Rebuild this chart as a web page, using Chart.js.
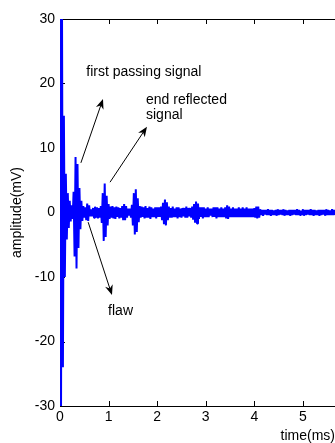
<!DOCTYPE html>
<html>
<head>
<meta charset="utf-8">
<script src="https://cdn.jsdelivr.net/npm/chart.js@4.4.0/dist/chart.umd.min.js"></script>
<style>
    html, body { margin: 0; padding: 0; background: #fff; }
</style>
</head>
<body>
<canvas id="signalChart" width="335" height="443"></canvas>
<script>
// Sampling of the recorded trace (ms between samples)
const sampleStepMs = 0.02;

// Amplitude, mV (one value per sample)
const amplitudeMv = [
    // excitation pulse and its decay
    35, -35, 35, -24, 15, -10, 6, -4.2, 3, -2.4, 1.8, -1.4, 1.1, -1.0,
    // first passing signal
    3.2, -6.8, 8.6, -8.7, 7.5, -5.5, 3.8, -2.6, 1.8, -1.3, 1.0, -0.8,
    // flaw echo and noise
    0.8, -1.2, 1.4, -1.3, 1.1, -0.6, 0.5, -0.6, 0.7, -0.8, 0.9, -0.8, 0.8, -0.9, 0.7, -0.8, 1.0, -1.6,
    // end reflected signal
    3.0, -4.4, 4.5, -3.8, 2.6, -2.0, 1.3, -1.0,
    0.9, -0.8, 1.0, -0.9, 0.8, -1.0, 0.9, -0.7, 0.8, -0.9, 0.7, -0.8, 1.0, -1.2, 1.3, -1.2, 1.0, -0.8, 0.6, -0.5, 0.6, -0.8, 1.2,
    // second reflection
    -2.0, 3.0, -3.4, 3.6, -3.0, 2.2, -1.5, 1.0,
    -0.8, 0.9, -0.7, 0.8, -0.9, 1.0, -0.8, 0.7, -0.8, 0.9, -1.0, 0.8, -0.7, 0.6, -0.7, 0.8, -0.9, 0.8, -0.7, 0.8, -0.7, 0.9, -1.2,
    // third reflection
    1.5, -1.8, 2.0, -2.0, 1.6, -1.2,
    0.9, -0.8, 0.7, -0.8, 0.9, -0.7, 0.6, -0.7, 0.8, -0.9, 0.8, -0.7, 0.6, -0.8, 0.7, -0.6, 0.7, -0.8, 0.9, -0.8, 0.7, -0.6, 0.7, -0.8, 0.9, -1.1,
    // fourth reflection
    1.3, -1.6, 1.7, -1.7, 1.4, -1.0,
    0.8, -0.7, 0.8, -0.9, 0.8, -0.7, 0.6, -0.7, 0.8, -0.7, 0.6, -0.5, 0.6, -0.7, 0.8, -0.7, 0.8, -0.9, 0.8, -0.7, 0.6, -0.7, 0.8, -0.7, 0.6, -0.7, 0.8,
    // fifth reflection
    -0.9, 1.1, -1.0, 0.9,
    -0.7, 0.6, -0.7, 0.8, -0.7, 0.6, -0.7, 0.6, -0.7, 0.8, -0.7, 0.6, -0.7, 0.8, -0.7, 0.6, -0.7, 0.8, -0.7, 0.6, -0.7, 0.6, -0.7, 0.6, -0.7, 0.7, -0.8,
    // sixth reflection
    0.9, -0.9, 0.9, -0.8,
    // residual noise
    0.5, -0.4, 0.4, -0.5, 0.4, -0.3, 0.4, -0.4, 0.5, -0.4,
    0.4, -0.5, 0.4, -0.4, 0.3, -0.4, 0.4, -0.5, 0.5, -0.4,
    0.4, -0.3, 0.4, -0.4, 0.5, -0.5, 0.4, -0.4, 0.3, -0.4,
    0.4, -0.5, 0.4, -0.4, 0.4, -0.3, 0.4, -0.4, 0.5, -0.4,
    0.4, -0.4, 0.3, -0.4, 0.5, -0.5, 0.4, -0.4, 0.4, -0.3,
    0.4, -0.4, 0.5, -0.4, 0.4, -0.5, 0.4, -0.4, 0.3, -0.4,
    0.4, -0.5, 0.4, -0.4, 0.4, -0.3, 0.4, -0.5, 0.5, -0.4,
    0.4, -0.4, 0.3, -0.4, 0.5, -0.4, 0.4, -0.4
];

// Axis ticks
const xTicks = [0, 1, 2, 3, 4, 5];
const yTicks = [-30, -20, -10, 0, 10, 20, 30];

// Annotations (data coordinates)
const noteTexts = ['first passing signal', 'end reflected', 'signal', 'flaw'];
const noteX = [0.54, 1.77, 1.77, 0.99];
const noteY = [21.2, 16.8, 14.5, -15.9];
const arrowFromX = [0.43, 1.03, 0.58];
const arrowFromY = [7.7, 4.7, -1.5];
const arrowToX = [0.885, 1.79, 1.07];
const arrowToY = [17.6, 13.3, -12.8];

const fontFamily = '"Liberation Sans", Arial, Helvetica, sans-serif';

// Inner tick marks and the top edge of the box, MATLAB style
const axisBoxPlugin = {
    id: 'axisBox',
    beforeDatasetsDraw(chart) {
        const { ctx, chartArea, scales } = chart;
        ctx.save();
        ctx.strokeStyle = '#000';
        ctx.lineWidth = 1;
        ctx.beginPath();
        ctx.moveTo(chartArea.left, chartArea.top + 0.5);
        ctx.lineTo(chartArea.right, chartArea.top + 0.5);
        scales.x.ticks.forEach(t => {
            const px = Math.round(scales.x.getPixelForValue(t.value)) + 0.5;
            ctx.moveTo(px, chartArea.bottom);
            ctx.lineTo(px, chartArea.bottom - 5);
            ctx.moveTo(px, chartArea.top);
            ctx.lineTo(px, chartArea.top + 5);
        });
        scales.y.ticks.forEach(t => {
            const py = Math.round(scales.y.getPixelForValue(t.value)) + 0.5;
            ctx.moveTo(chartArea.left, py);
            ctx.lineTo(chartArea.left + 5, py);
        });
        ctx.stroke();
        ctx.restore();
    }
};

// Text notes and arrows
const notesPlugin = {
    id: 'notes',
    afterDatasetsDraw(chart) {
        const { ctx, scales } = chart;
        const sx = v => scales.x.getPixelForValue(v);
        const sy = v => scales.y.getPixelForValue(v);
        ctx.save();
        ctx.fillStyle = '#000';
        ctx.strokeStyle = '#000';
        ctx.lineWidth = 1;
        ctx.font = '14px ' + fontFamily;
        ctx.textAlign = 'left';
        ctx.textBaseline = 'alphabetic';
        noteTexts.forEach((txt, i) => {
            ctx.fillText(txt, sx(noteX[i]), sy(noteY[i]));
        });
        arrowFromX.forEach((fx, i) => {
            const x0 = sx(fx), y0 = sy(arrowFromY[i]);
            const x1 = sx(arrowToX[i]), y1 = sy(arrowToY[i]);
            const ang = Math.atan2(y1 - y0, x1 - x0);
            ctx.beginPath();
            ctx.moveTo(x0, y0);
            ctx.lineTo(x1 - 6 * Math.cos(ang), y1 - 6 * Math.sin(ang));
            ctx.stroke();
            ctx.beginPath();
            ctx.moveTo(x1, y1);
            ctx.lineTo(x1 - 10 * Math.cos(ang) + 4 * Math.sin(ang), y1 - 10 * Math.sin(ang) - 4 * Math.cos(ang));
            ctx.lineTo(x1 - 7 * Math.cos(ang), y1 - 7 * Math.sin(ang));
            ctx.lineTo(x1 - 10 * Math.cos(ang) - 4 * Math.sin(ang), y1 - 10 * Math.sin(ang) + 4 * Math.cos(ang));
            ctx.closePath();
            ctx.fill();
        });
        ctx.restore();
    }
};

const tickFont = { family: fontFamily, size: 14 };

new Chart(document.getElementById('signalChart'), {
    type: 'line',
    data: {
        datasets: [{
            data: amplitudeMv.map((v, i) => ({ x: i * sampleStepMs, y: v })),
            borderColor: '#0000ff',
            borderWidth: 2,
            borderJoinStyle: 'bevel',
            pointRadius: 0,
            tension: 0,
            fill: false,
            clip: 0
        }]
    },
    options: {
        responsive: false,
        animation: false,
        layout: { padding: { top: 19, right: 0, bottom: 0, left: 0 } },
        plugins: {
            legend: { display: false },
            tooltip: { enabled: false }
        },
        scales: {
            x: {
                type: 'linear',
                min: 0,
                max: 5.66,
                afterBuildTicks: s => { s.ticks = xTicks.map(v => ({ value: v })); },
                afterFit: s => { s.height = 37; },
                grid: { display: false, drawTicks: false },
                border: { display: true, color: '#000', width: 1 },
                ticks: { font: tickFont, color: '#000', padding: 3, maxRotation: 0, autoSkip: false },
                title: {
                    display: true,
                    text: 'time(ms)',
                    align: 'end',
                    color: '#000',
                    font: { family: fontFamily, size: 14, lineHeight: 1 },
                    padding: { top: 0, bottom: 0 }
                }
            },
            y: {
                min: -30,
                max: 30,
                afterBuildTicks: s => { s.ticks = yTicks.map(v => ({ value: v })); },
                afterFit: s => { s.width = 60; },
                grid: { display: false, drawTicks: false },
                border: { display: true, color: '#000', width: 1 },
                ticks: { font: tickFont, color: '#000', padding: 5, autoSkip: false },
                title: {
                    display: true,
                    text: 'amplitude(mV)',
                    color: '#000',
                    font: { family: fontFamily, size: 14, lineHeight: 1 },
                    padding: { top: 10, bottom: 0 }
                }
            }
        }
    },
    plugins: [axisBoxPlugin, notesPlugin]
});
</script>
</body>
</html>
